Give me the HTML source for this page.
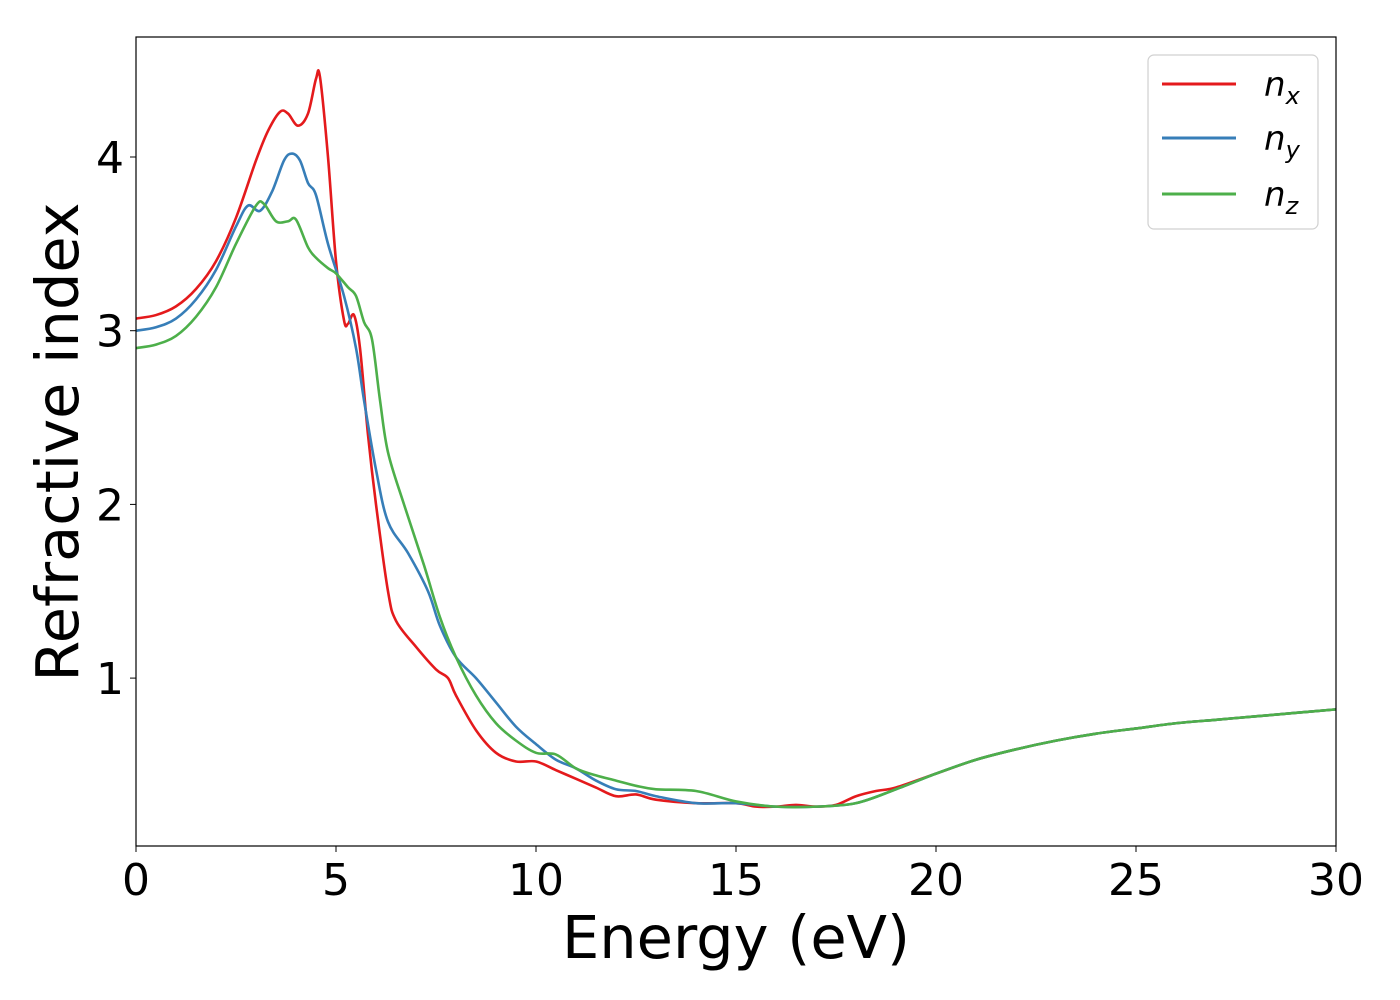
<!DOCTYPE html>
<html><head><meta charset="utf-8"><style>
body{margin:0;background:#fff;}
svg{display:block;font-family:"DejaVu Sans","Liberation Sans",sans-serif;}
</style></head><body>
<svg id="chart" width="1400" height="1000" xmlns="http://www.w3.org/2000/svg">
<rect width="1400" height="1000" fill="#fff"/>
<g id="plot"></g>
<rect x="136" y="37" width="1200" height="809" fill="none" stroke="#000" stroke-width="1.2"/>
<g id="xticks"></g><g id="yticks"></g>
<text x="736" y="958" font-size="59" text-anchor="middle">Energy (eV)</text>
<text transform="translate(78,442) rotate(-90)" font-size="59" text-anchor="middle">Refractive index</text>
<g>
<rect x="1148" y="55" width="170" height="174" rx="6" fill="#fff" stroke="#ccc" stroke-width="1.2" opacity="0.9"/>
<g><line x1="1162" y1="84" x2="1236" y2="84" stroke="#e41a1c" stroke-width="3"/><text x="1264" y="96" font-size="34" font-style="italic">n<tspan font-size="24" dy="8">x</tspan></text></g>
<g><line x1="1162" y1="138" x2="1236" y2="138" stroke="#377eb8" stroke-width="3"/><text x="1264" y="150" font-size="34" font-style="italic">n<tspan font-size="24" dy="8">y</tspan></text></g>
<g><line x1="1162" y1="194" x2="1236" y2="194" stroke="#4daf4a" stroke-width="3"/><text x="1264" y="206" font-size="34" font-style="italic">n<tspan font-size="24" dy="8">z</tspan></text></g>
</g>
</svg>
<script>
const xTicks=[0,5,10,15,20,25,30];
const yTicks=[1,2,3,4];
const tail=[[21,0.53],[22,0.59],[23,0.64],[24,0.68],[25,0.71],[26,0.74],[27,0.76],[28,0.78],[29,0.80],[30,0.82]];
const nx=[[0,3.07],[0.5,3.09],[1,3.14],[1.5,3.24],[2,3.40],[2.5,3.65],[3,3.98],[3.3,4.15],[3.6,4.26],[3.8,4.25],[4.05,4.18],[4.3,4.25],[4.5,4.45],[4.6,4.46],[4.8,4.0],[5.0,3.4],[5.2,3.06],[5.3,3.04],[5.45,3.09],[5.6,2.9],[5.8,2.4],[6.0,2.0],[6.3,1.5],[6.5,1.33],[7,1.18],[7.5,1.05],[7.8,1.0],[8,0.9],[8.5,0.7],[9,0.57],[9.5,0.52],[10,0.52],[10.5,0.47],[11,0.42],[11.5,0.37],[12,0.32],[12.5,0.33],[13,0.30],[14,0.28],[15,0.28],[15.5,0.26],[16,0.26],[16.5,0.27],[17,0.26],[17.5,0.27],[18,0.32],[18.5,0.35],[19,0.37],[20,0.45]].concat(tail);
const ny=[[0,3.00],[0.5,3.02],[1,3.07],[1.5,3.18],[2,3.35],[2.5,3.6],[2.8,3.72],[3.1,3.69],[3.4,3.80],[3.7,3.98],[3.9,4.02],[4.1,3.98],[4.3,3.85],[4.5,3.78],[4.8,3.5],[5.2,3.2],[5.5,2.9],[5.7,2.6],[6,2.2],[6.3,1.9],[6.8,1.72],[7.3,1.5],[7.6,1.3],[8,1.12],[8.5,1.0],[9,0.86],[9.5,0.72],[10,0.62],[10.5,0.53],[11,0.48],[11.5,0.41],[12,0.36],[12.5,0.35],[13,0.32],[14,0.28],[15,0.28],[16,0.26],[17,0.26],[18,0.28],[19,0.36],[20,0.45]].concat(tail);
const nz=[[0,2.90],[0.5,2.92],[1,2.97],[1.5,3.08],[2,3.25],[2.5,3.5],[3,3.72],[3.2,3.73],[3.5,3.63],[3.8,3.63],[4.0,3.64],[4.3,3.48],[4.5,3.42],[4.8,3.36],[5.0,3.33],[5.3,3.25],[5.5,3.2],[5.7,3.05],[5.9,2.95],[6.1,2.6],[6.3,2.3],[6.7,2.0],[7.2,1.65],[7.6,1.35],[8,1.12],[8.5,0.9],[9,0.74],[9.5,0.64],[10,0.57],[10.5,0.56],[11,0.48],[11.5,0.44],[12,0.41],[12.5,0.38],[13,0.36],[14,0.35],[15,0.29],[16,0.26],[17,0.26],[18,0.28],[19,0.36],[20,0.45]].concat(tail);
const NS="http://www.w3.org/2000/svg";
function X(v){return 136+v*40;}
function Y(v){return 851.8-v*173.7;}
function pathD(d){
 const p=d.map(a=>[X(a[0]),Y(a[1])]);
 let s="M"+p[0][0]+","+p[0][1];
 for(let i=0;i<p.length-1;i++){
  const p0=p[i-1]||p[i],p1=p[i],p2=p[i+1],p3=p[i+2]||p2;
  const c1=[p1[0]+(p2[0]-p0[0])/6,p1[1]+(p2[1]-p0[1])/6];
  const c2=[p2[0]-(p3[0]-p1[0])/6,p2[1]-(p3[1]-p1[1])/6];
  s+=" C"+c1+" "+c2+" "+p2;
 }
 return s;
}
const plot=document.getElementById('plot');
[[nx,'#e41a1c','series-nx'],[ny,'#377eb8','series-ny'],[nz,'#4daf4a','series-nz']].forEach(s=>{
 const el=document.createElementNS(NS,'path');
 el.setAttribute('d',pathD(s[0]));el.setAttribute('fill','none');el.setAttribute('stroke',s[1]);el.setAttribute('stroke-width','2.6');
 
 
 plot.appendChild(el);
});
const xg=document.getElementById('xticks');
xTicks.forEach(t=>{
 const l=document.createElementNS(NS,'line');
 l.setAttribute('x1',X(t));l.setAttribute('x2',X(t));l.setAttribute('y1',846);l.setAttribute('y2',852);l.setAttribute('stroke','#000');
 
 
 xg.appendChild(l);
 const tx=document.createElementNS(NS,'text');
 tx.setAttribute('x',X(t));tx.setAttribute('y',895);tx.setAttribute('font-size','44');tx.setAttribute('text-anchor','middle');tx.textContent=t;
 
 
 xg.appendChild(tx);
});
const yg=document.getElementById('yticks');
yTicks.forEach(t=>{
 const l=document.createElementNS(NS,'line');
 l.setAttribute('x1',130);l.setAttribute('x2',136);l.setAttribute('y1',Y(t));l.setAttribute('y2',Y(t));l.setAttribute('stroke','#000');
 
 
 yg.appendChild(l);
 const tx=document.createElementNS(NS,'text');
 tx.setAttribute('x',124);tx.setAttribute('y',Y(t)+16);tx.setAttribute('font-size','44');tx.setAttribute('text-anchor','end');tx.textContent=t;
 
 
 yg.appendChild(tx);
});
</script>
</body></html>
